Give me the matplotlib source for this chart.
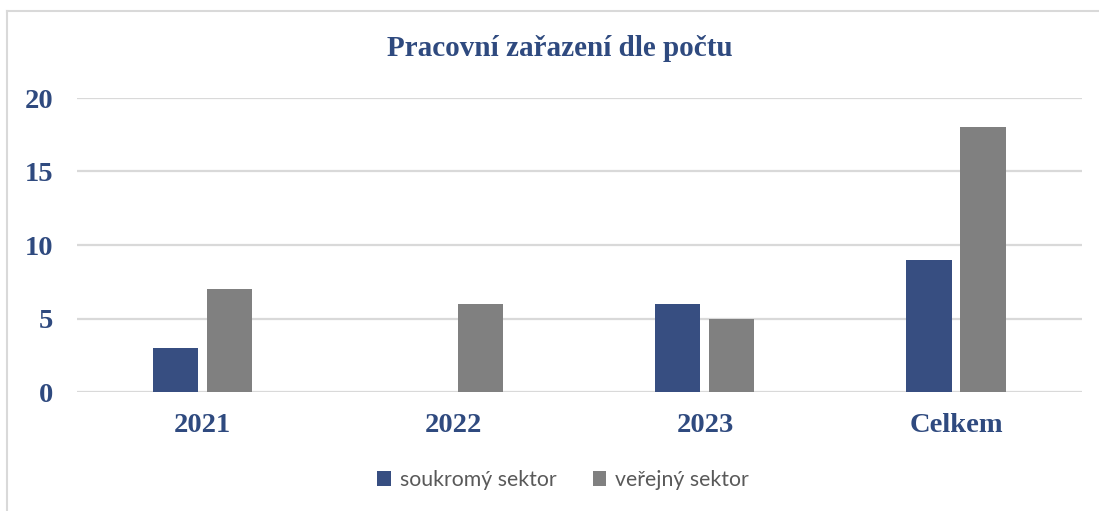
import numpy as np
import matplotlib
matplotlib.use("Agg")
import matplotlib.pyplot as plt
from matplotlib.lines import Line2D

categories = ["2021", "2022", "2023", "Celkem"]
soukromy = [3, 0, 6, 9]
verejny = [7, 6, 5, 18]
series_names = ["soukromý sektor", "veřejný sektor"]
yticks = [0, 5, 10, 15, 20]

BLUE = "#374E81"
GRAY = "#808080"
TXT = "#2F4A7F"

fig = plt.figure(figsize=(10.99, 5.11), dpi=100)
ax = fig.add_axes([77 / 1099, 1 - 392 / 511, 1005 / 1099, 294 / 511])

# outer chart frame: only the top and left edges show in the reference
top = 1 - 11 / 511
left = 7 / 1099
fig.lines.append(Line2D([left, 1.01], [top, top], transform=fig.transFigure, color="#D9D9D9", lw=1.5))
fig.lines.append(Line2D([left, left], [-0.01, top], transform=fig.transFigure, color="#D9D9D9", lw=1.5))

x = np.arange(len(categories))
w = 0.18
ax.bar(x - 0.109, soukromy, w, color=BLUE, label=series_names[0], zorder=3)
ax.bar(x + 0.106, verejny, w, color=GRAY, label=series_names[1], zorder=3)

ax.set_xlim(-0.5, len(categories) - 0.5)
ax.set_ylim(0, 20)
ax.set_yticks(yticks)
ax.grid(axis="y", color="#D9D9D9", lw=1.6, zorder=0)
for s in ax.spines.values():
    s.set_visible(False)
ax.tick_params(length=0)
ax.tick_params(axis="y", pad=17)
ax.tick_params(axis="x", pad=15)
ax.set_xticks(x)
ax.set_xticklabels(categories)
for lab in ax.get_xticklabels() + ax.get_yticklabels():
    lab.set_fontfamily("Liberation Serif")
    lab.set_fontweight("bold")
    lab.set_fontsize(20.5)
    lab.set_color(TXT)

fig.text(560 / 1099, 1 - 48 / 511, "Pracovní zařazení dle počtu", ha="center", va="center",
         fontfamily="Liberation Serif", fontweight="bold", fontsize=21, color=TXT)

leg = fig.legend(loc="center", bbox_to_anchor=(563 / 1099, 1 - 480 / 511), ncol=2, frameon=False,
                 prop={"family": "Lato", "size": 15.3}, handlelength=0.65, handleheight=0.65,
                 handletextpad=0.4, columnspacing=1.7)
for t in leg.get_texts():
    t.set_color("#595959")

fig.savefig("out.png", dpi=100)
